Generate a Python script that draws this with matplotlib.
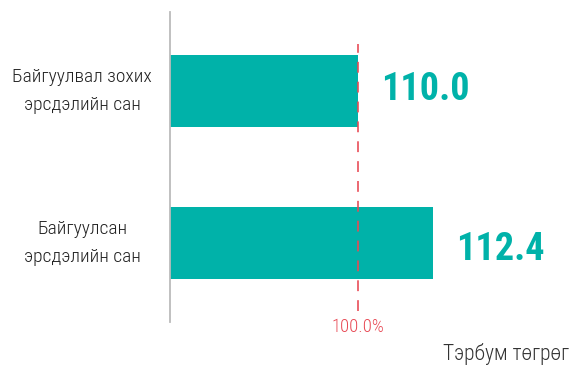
import matplotlib
matplotlib.use("Agg")
import matplotlib.pyplot as plt
from matplotlib import font_manager as fm

names = sorted({f.name for f in fm.fontManager.ttflist})
cond = [n for n in ["Roboto Condensed", "Liberation Sans Narrow", "Open Sans Condensed", "DejaVu Sans Condensed"] if n in names]
fam = cond + ["Roboto"] if cond else ["Roboto"]

categories = ["Байгуулвал зохих\nэрсдэлийн сан", "Байгуулсан\nэрсдэлийн сан"]
values = [110.0, 112.4]
value_labels = ["110.0", "112.4"]
reference_value = 110.0
reference_label = "100.0%"
unit_label = "Тэрбум төгрөг"

teal = "#00B2A9"
red = "#E84A55"

W, H = 573, 366
fig = plt.figure(figsize=(W/100, H/100), dpi=100)
ax = fig.add_axes([170/W, 1-322/H, 1-170/W, 310/H])

PX_X = 31.25   # pixels per data unit (x)
PX_Y = 152.0   # pixels per category step (y)

ypos = [1, 0]
ax.barh(ypos, values, height=0.47, color=teal, zorder=2)
ax.set_xlim(104, 104 + (W-170)/PX_X)
ax.set_ylim(-0.52, 1.52)
ax.axvline(reference_value, ymin=(322-311)/310, ymax=(322-44)/310, color=red,
           ls=(0, (6, 5)), lw=1.3, alpha=0.9, zorder=3)

baseline_px = [9, 17]
for y, v, lab, b in zip(ypos, values, value_labels, baseline_px):
    ax.text(v + 0.75, y - b/PX_Y, lab, ha="left", va="baseline", color=teal,
            fontsize=27.5, fontweight="bold", family=fam)

for y, c in zip(ypos, categories):
    yfig = ax.transData.transform((0, y))[1] / H
    fig.text(82/W, yfig, c, ha="center", va="center", multialignment="center",
             fontsize=14, fontweight="light", family=fam, color="#222222",
             linespacing=1.7)

ax.text(reference_value, -0.52 - 10/PX_Y, reference_label, ha="center", va="baseline",
        color=red, fontsize=13.5, fontweight="light", family=fam)
fig.text(569/W, 1-360/H, unit_label, ha="right", va="baseline", fontsize=15.5,
         fontweight="light", family=fam, color="#333333")

for s in ["top", "right", "bottom"]:
    ax.spines[s].set_visible(False)
ax.spines["left"].set_color("#BBBBBB")
ax.spines["left"].set_linewidth(1.3)
ax.set_xticks([])
ax.set_yticks([])
ax.patch.set_alpha(0)

fig.savefig("out.png", dpi=100)
